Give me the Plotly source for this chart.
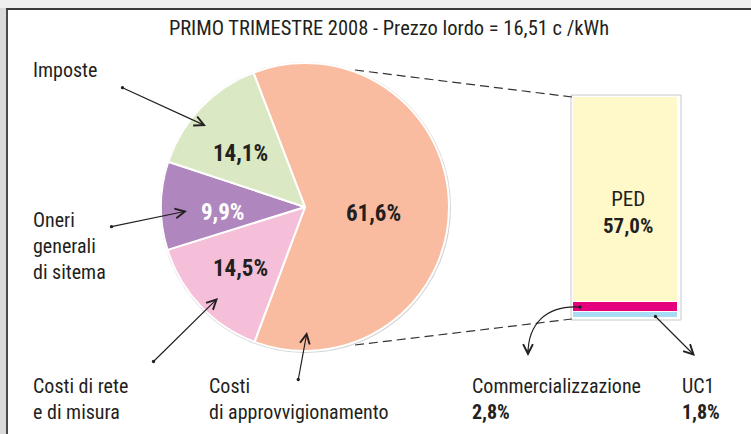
import plotly.graph_objects as go

# ---------------- data ----------------
title_text = "PRIMO TRIMESTRE 2008 - Prezzo lordo = 16,51 c /kWh"
pie_labels = ["Costi di approvvigionamento", "Costi di rete e di misura",
              "Oneri generali di sitema", "Imposte"]
pie_values = [61.6, 14.5, 9.9, 14.1]
pie_colors = ["#F9BCA0", "#F6BFD9", "#AF86BD", "#DAE8C4"]
pie_text_colors = ["#231F20", "#231F20", "#FFFFFF", "#231F20"]

bar_labels = ["UC1", "Commercializzazione", "PED"]
bar_values = [1.8, 2.8, 57.0]
bar_colors = ["#A8DCF4", "#E5007E", "#FFF8C8"]

W, H = 751, 434
FONT = "Liberation Sans Narrow, Roboto Condensed, DejaVu Sans Condensed, Arial Narrow, sans-serif"
TXT = "#231F20"


def X(x):
    return x / W


def Y(y):
    return 1 - y / H


def fmt(v):
    return f"{v:.1f}".replace(".", ",") + "%"


fig = go.Figure()

# pie
cx, cy, r = 305, 207, 144
fig.add_trace(go.Pie(
    labels=pie_labels, values=pie_values, sort=False,
    direction="clockwise", rotation=-21,
    marker=dict(colors=pie_colors, line=dict(color="white", width=2)),
    textinfo="none",
    domain=dict(x=[X(cx - r), X(cx + r)], y=[Y(cy + r), Y(cy - r)]),
    showlegend=False, hoverinfo="label+percent",
))

# stacked bar
for lab, val, col in zip(bar_labels, bar_values, bar_colors):
    fig.add_trace(go.Bar(
        x=[0], y=[val], name=lab, width=1,
        marker=dict(color=col, line=dict(color="white", width=1.5)),
        showlegend=False, hoverinfo="name+y",
    ))

shapes = []
# outer background / frame
shapes.append(dict(type="rect", xref="paper", yref="paper", x0=0, x1=X(7), y0=0, y1=1,
                   fillcolor="#DADADA", line=dict(width=0), layer="below"))
shapes.append(dict(type="rect", xref="paper", yref="paper", x0=0, x1=1, y0=Y(8), y1=1,
                   fillcolor="#EFEFEF", line=dict(width=0), layer="below"))
shapes.append(dict(type="line", xref="paper", yref="paper", x0=X(7), x1=X(7), y0=0, y1=Y(9),
                   line=dict(color="#4A4A4A", width=2)))
shapes.append(dict(type="line", xref="paper", yref="paper", x0=X(6), x1=1, y0=Y(9), y1=Y(9),
                   line=dict(color="#3A3A3A", width=2)))
# pie shadow
shapes.append(dict(type="circle", xref="paper", yref="paper",
                   x0=X(cx - r - 1), x1=X(cx + r + 2), y0=Y(cy + r + 2), y1=Y(cy - r - 1),
                   fillcolor="#D4D4D4", line=dict(width=0), layer="below"))
# bar box shadow
shapes.append(dict(type="rect", xref="paper", yref="paper",
                   x0=X(571), x1=X(681), y0=Y(320), y1=Y(95),
                   fillcolor="white", line=dict(color="#C8C8C8", width=1), layer="below"))
# dashed connector lines
for (x0, y0, x1, y1) in [(355, 70, 572, 97), (355, 345, 572, 319)]:
    shapes.append(dict(type="line", xref="paper", yref="paper",
                       x0=X(x0), y0=Y(y0), x1=X(x1), y1=Y(y1),
                       line=dict(color="#333333", width=1.2, dash="9px,5px")))
# curved arrow for Commercializzazione
shapes.append(dict(type="path", xref="paper", yref="paper",
                   path=f"M {X(580)} {Y(307)} C {X(545)} {Y(305)}, {X(528)} {Y(325)}, {X(528)} {Y(354)}",
                   line=dict(color="#231F20", width=1.2)))
shapes.append(dict(type="circle", xref="paper", yref="paper",
                   x0=X(578.3), x1=X(581.7), y0=Y(308.7), y1=Y(305.3),
                   fillcolor="#231F20", line=dict(width=0)))

annotations = []


def arrow(head, tail):
    annotations.append(dict(
        xref="paper", yref="paper", x=X(head[0]), y=Y(head[1]),
        ax=tail[0] - head[0], ay=tail[1] - head[1], text="",
        showarrow=True, arrowhead=5, arrowsize=1.6, arrowwidth=1.2,
        arrowcolor="#231F20", arrowside="end+start", startarrowhead=6,
        startarrowsize=0.7, standoff=0, startstandoff=0,
    ))


arrow((206, 126), (121, 87))    # Imposte
arrow((187, 211), (110, 227))   # Oneri
arrow((218, 298), (152, 363))   # Costi di rete
arrow((307, 332), (298, 381))   # Costi di approvvigionamento
arrow((695, 356), (654, 315))   # UC1
# arrow head of curved arrow
annotations.append(dict(xref="paper", yref="paper", x=X(528), y=Y(356), ax=0, ay=-8, text="",
                        showarrow=True, arrowhead=5, arrowsize=1.6, arrowwidth=1.2,
                        arrowcolor="#231F20", standoff=0))


def label(x, y, text, anchor="left", size=20, color=TXT):
    annotations.append(dict(xref="paper", yref="paper", x=X(x), y=Y(y), text=text,
                            showarrow=False, xanchor=anchor, yanchor="middle", align=anchor,
                            font=dict(family=FONT, size=size, color=color)))


# pie value labels
pie_label_pos = [(373, 213), (240, 268), (223, 212), (240, 153)]
for (lx, ly), v, c in zip(pie_label_pos, pie_values, pie_text_colors):
    label(lx, ly, f"<b>{fmt(v)}</b>", anchor="center", size=23, color=c)

label(31, 70, "Imposte")
label(31, 246, "Oneri<br>generali<br>di sitema")
label(31, 399, "Costi di rete<br>e di misura")
label(207, 399, "Costi<br>di approvvigionamento")
label(470, 399, f"Commercializzazione<br><b>{fmt(bar_values[1])}</b>")
label(680, 399, f"UC1<br><b>{fmt(bar_values[0])}</b>")
label(628, 212, f"PED<br><b>{fmt(bar_values[2])}</b>", anchor="center", size=21)

fig.update_layout(
    width=W, height=H, margin=dict(l=0, r=0, t=0, b=0),
    paper_bgcolor="white", plot_bgcolor="rgba(0,0,0,0)",
    separators=",.", barmode="stack", bargap=0,
    title=dict(text=title_text, x=X(389), y=Y(28), xanchor="center", yanchor="middle",
               font=dict(family=FONT, size=20.5, color=TXT)),
    xaxis=dict(domain=[X(573), X(678)], range=[-0.5, 0.5], visible=False, fixedrange=True),
    yaxis=dict(domain=[Y(318), Y(97)], range=[0, sum(bar_values)], visible=False, fixedrange=True),
    shapes=shapes, annotations=annotations,
)

fig.write_html("out.html", config={"displayModeBar": False},
               post_script="document.body.style.margin='0';")
